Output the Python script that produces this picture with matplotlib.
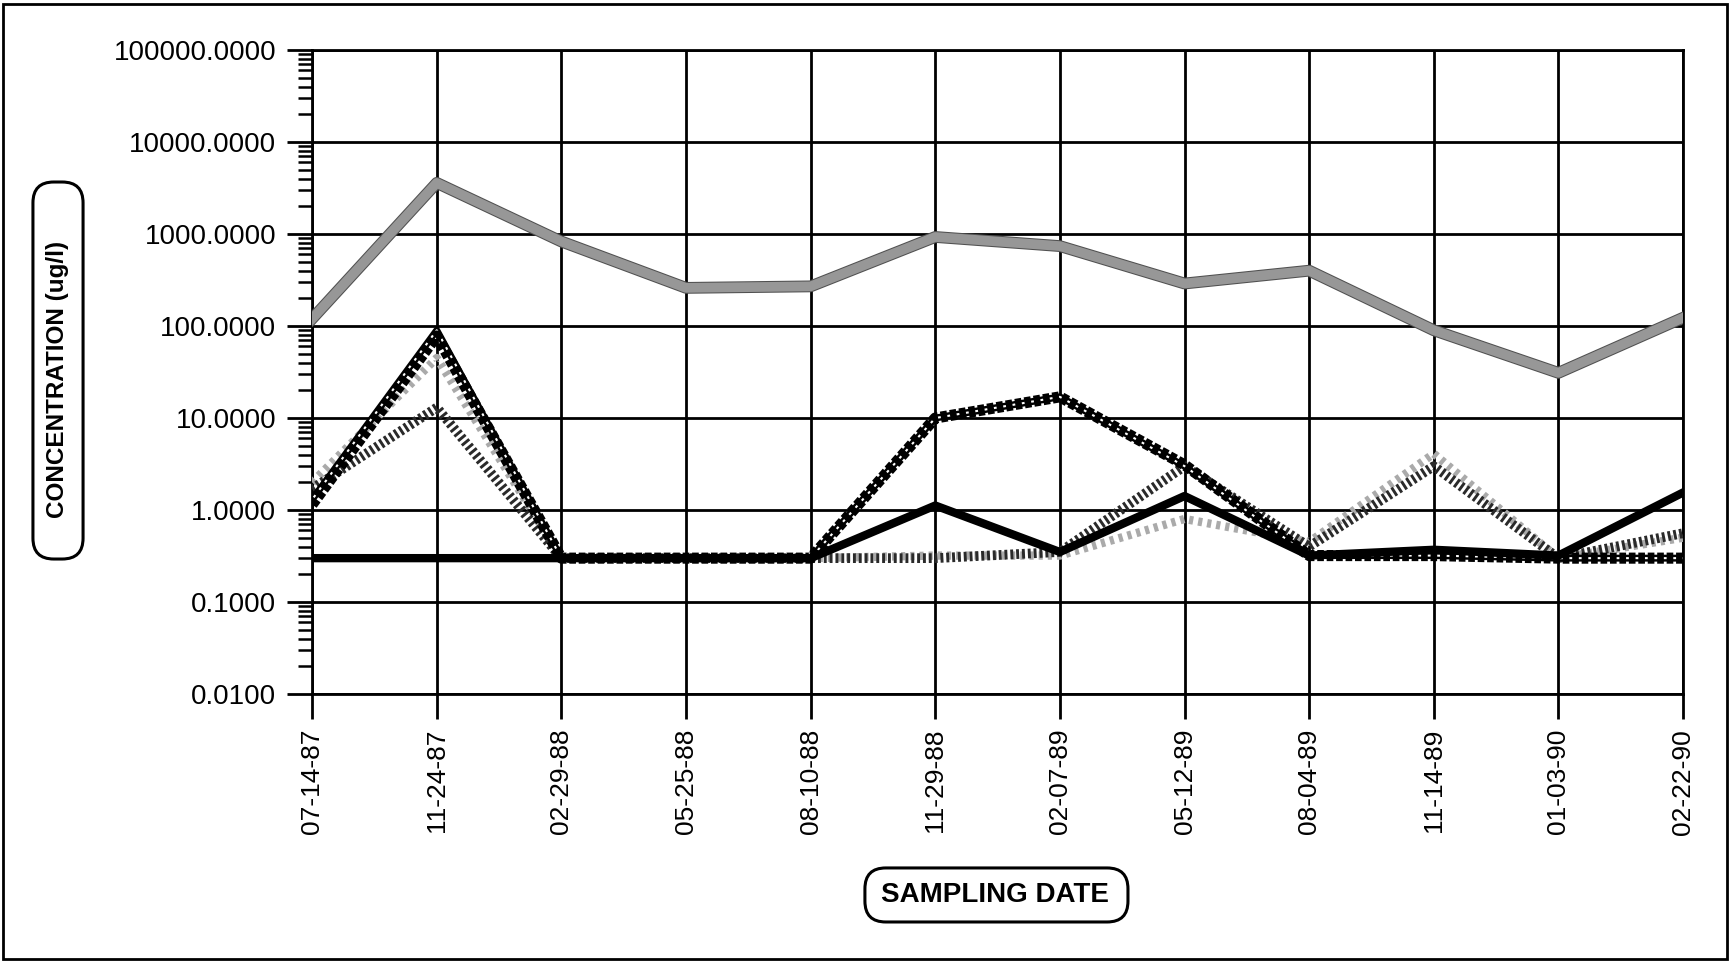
import numpy as np
import matplotlib
matplotlib.use('Agg')
import matplotlib.pyplot as plt
import matplotlib.ticker as mticker
import matplotlib.patheffects as pe
from matplotlib.patches import Rectangle, FancyBboxPatch

plt.rcParams['font.family'] = ['Liberation Sans', 'DejaVu Sans']

dates = ['07-14-87', '11-24-87', '02-29-88', '05-25-88', '08-10-88', '11-29-88',
         '02-07-89', '05-12-89', '08-04-89', '11-14-89', '01-03-90', '02-22-90']

# values (ug/l)
gray_top = [120, 3600, 830, 260, 270, 930, 740, 290, 400, 90, 31, 123]
outlined = [1.3, 90, 0.3, 0.3, 0.3, 10, 17, 3, 0.32, 0.32, 0.3, 0.3]
diag_hatch = [1.15, 78, 0.3, 0.3, 0.3, 10, 17, 3.1, 0.32, 0.32, 0.3, 0.3]
vert_hatch = [1.7, 13, 0.3, 0.3, 0.3, 0.3, 0.35, 3.0, 0.4, 3.0, 0.3, 0.56]
light_dot = [2.0, 45, 0.3, 0.3, 0.3, 0.32, 0.32, 0.8, 0.45, 4.1, 0.3, 0.5]
black_solid = [0.3, 0.3, 0.3, 0.3, 0.3, 1.12, 0.35, 1.42, 0.32, 0.37, 0.32, 1.55]

yticks = [0.01, 0.1, 1, 10, 100, 1000, 10000, 100000]

fig = plt.figure(figsize=(17.34, 9.63), dpi=100)
ax = fig.add_axes([0.180, 0.2793, 0.7906, 0.6687])
x = np.arange(len(dates))

ax.plot(x, light_dot, color='#aaaaaa', lw=6, ls=(0, (0.5, 0.6)), zorder=3)
ax.plot(x, vert_hatch, color='#2a2a2a', lw=7, ls=(0, (0.3, 0.3)), zorder=4)
ax.plot(x, outlined, color='white', lw=1.5, zorder=5,
        path_effects=[pe.Stroke(linewidth=5, foreground='black'), pe.Normal()])
ax.plot(x, diag_hatch, color='black', lw=8, ls=(0, (0.6, 0.25)), zorder=6)
ax.plot(x, black_solid, color='black', lw=6, zorder=7)
ax.plot(x, gray_top, color='#979797', lw=7, zorder=8,
        path_effects=[pe.Stroke(linewidth=8.5, foreground='#505050'), pe.Normal()])

ax.set_yscale('log')
ax.set_ylim(0.01, 100000)
ax.set_xlim(0, len(dates) - 1)
ax.set_yticks(yticks)
ax.yaxis.set_major_formatter(mticker.FuncFormatter(lambda v, p: '%.4f' % v))
ax.yaxis.set_minor_locator(mticker.LogLocator(base=10, subs=np.arange(2, 10), numticks=100))
ax.yaxis.set_minor_formatter(mticker.NullFormatter())
ax.set_xticks(x)
ax.set_xticklabels(dates, rotation=90)

ax.grid(True, which='major', color='black', lw=2.0)
for s in ax.spines.values():
    s.set_linewidth(2.0)
ax.tick_params(axis='y', which='major', length=18, width=2.0, labelsize=20, pad=8)
ax.tick_params(axis='y', which='minor', length=10, width=1.8)
ax.tick_params(axis='x', which='major', length=18, width=2.0, labelsize=19, pad=7)

# rounded label boxes
fig.patches.append(FancyBboxPatch((0.4988, 0.0426), 0.1517, 0.0561,
                                  boxstyle='round,pad=0,rounding_size=0.012',
                                  transform=fig.transFigure, fc='white', ec='black', lw=2.2,
                                  mutation_aspect=1.8))
fig.text(0.5738, 0.0706, 'SAMPLING DATE', ha='center', va='center', fontsize=20,
         fontweight='bold')
fig.patches.append(FancyBboxPatch((0.019, 0.4195), 0.0289, 0.3915,
                                  boxstyle='round,pad=0,rounding_size=0.012',
                                  transform=fig.transFigure, fc='white', ec='black', lw=2.2,
                                  mutation_aspect=1.8))
fig.text(0.0334, 0.6064, 'CONCENTRATION (ug/l)', ha='center', va='center', fontsize=17.5,
         fontweight='bold', rotation=90)

fig.patches.append(Rectangle((0.002, 0.004), 0.994, 0.992, transform=fig.transFigure,
                             fill=False, ec='black', lw=2))

fig.savefig('out.png', dpi=100)
